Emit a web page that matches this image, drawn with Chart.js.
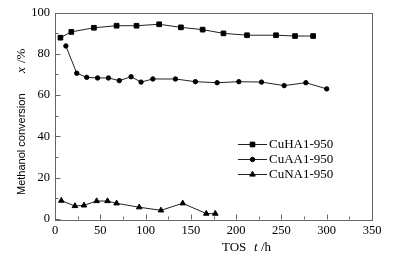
<!DOCTYPE html>
<html>
<head>
<meta charset="utf-8">
<script src="https://cdn.jsdelivr.net/npm/chart.js@4"></script>
<style>
  body { margin: 0; background: #fff; }
  canvas { display: block; }
</style>
</head>
<body>
<canvas id="chart" width="394" height="257"></canvas>
<script>
// --- datos ---
const seriesNames = ['CuHA1-950', 'CuAA1-950', 'CuNA1-950'];

const cuhaTime = [6, 18, 43, 68, 90, 115, 139, 163, 186, 212, 244, 265, 285];
const cuhaConv = [87.8, 90.6, 92.6, 93.6, 93.6, 94.3, 92.8, 91.7, 89.9, 89.0, 89.0, 88.6, 88.6];

const cuaaTime = [12, 24, 35, 47, 59, 71, 84, 95, 108, 133, 155, 179, 203, 228, 253, 277, 300];
const cuaaConv = [83.8, 70.6, 68.6, 68.3, 68.3, 67.0, 68.9, 66.3, 67.8, 67.8, 66.5, 66.0, 66.5, 66.3, 64.6, 66.0, 63.0];

const cunaTime = [7, 22, 32, 46, 58, 68, 93, 117, 141, 167, 177];
const cunaConv = [8.9, 6.3, 6.6, 8.7, 8.7, 7.6, 5.7, 4.2, 7.6, 2.6, 2.6];

const xTicks = [0, 50, 100, 150, 200, 250, 300, 350];
const yTicks = [0, 20, 40, 60, 80, 100];

const pts = (xs, ys) => xs.map((x, i) => ({ x: x, y: ys[i] }));

const serif = "'Liberation Serif', 'Times New Roman', serif";
const sans = "'Liberation Sans', Arial, sans-serif";

// marcos, ticks hacia dentro, leyenda y títulos de ejes
const decor = {
    id: 'decor',
    afterDraw(chart) {
        const { ctx, chartArea: a, scales: { x, y } } = chart;
        ctx.save();
        ctx.strokeStyle = '#666';
        ctx.lineWidth = 1;
        ctx.strokeRect(Math.round(a.left) + 0.5, Math.round(a.top) + 0.5,
            Math.round(a.right - a.left), Math.round(a.bottom - a.top));

        ctx.beginPath();
        const bottom = Math.round(a.bottom) + 0.5;
        const left = Math.round(a.left) + 0.5;
        for (let i = 0; i < xTicks.length; i++) {
            const px = Math.round(x.getPixelForValue(xTicks[i])) + 0.5;
            ctx.moveTo(px, bottom); ctx.lineTo(px, bottom - 5);
            if (i < xTicks.length - 1) {
                const pm = Math.round(x.getPixelForValue((xTicks[i] + xTicks[i + 1]) / 2)) + 0.5;
                ctx.moveTo(pm, bottom); ctx.lineTo(pm, bottom - 3);
            }
        }
        for (let i = 0; i < yTicks.length; i++) {
            const py = Math.round(y.getPixelForValue(yTicks[i])) + 0.5;
            ctx.moveTo(left, py); ctx.lineTo(left + 5, py);
            if (i < yTicks.length - 1) {
                const pm = Math.round(y.getPixelForValue((yTicks[i] + yTicks[i + 1]) / 2)) + 0.5;
                ctx.moveTo(left, pm); ctx.lineTo(left + 3, pm);
            }
        }
        ctx.stroke();

        // leyenda
        chart.data.datasets.forEach((ds, i) => {
            const ly = 144.5 + i * 15;
            ctx.strokeStyle = ds.borderColor;
            ctx.lineWidth = ds.borderWidth;
            ctx.beginPath();
            ctx.moveTo(238, ly); ctx.lineTo(267, ly);
            ctx.stroke();
            ctx.fillStyle = ds.pointBackgroundColor;
            ctx.strokeStyle = ds.pointBorderColor;
            ctx.lineWidth = 1;
            Chart.helpers.drawPoint(ctx, { pointStyle: ds.pointStyle, radius: ds.pointRadius, rotation: 0, borderWidth: 1 }, 252.5, ly);
            ctx.fillStyle = '#000';
            ctx.font = '13px ' + serif;
            ctx.textAlign = 'left';
            ctx.textBaseline = 'middle';
            ctx.fillText(ds.label, 269, ly + 0.5);
        });

        // título eje x
        ctx.fillStyle = '#000';
        ctx.textBaseline = 'middle';
        ctx.textAlign = 'left';
        ctx.font = '13px ' + serif;
        ctx.fillText('TOS', 222, 248);
        ctx.font = 'italic 13px ' + serif;
        ctx.fillText('t', 254, 248);
        ctx.font = '13px ' + serif;
        ctx.fillText('/h', 261, 248);

        // título eje y
        ctx.save();
        ctx.translate(22, 0);
        ctx.rotate(-Math.PI / 2);
        ctx.font = '11px ' + sans;
        ctx.fillText('Methanol conversion', -195, 0);
        ctx.font = 'italic 13px ' + serif;
        ctx.fillText('x', -73, 0);
        ctx.font = '13px ' + serif;
        ctx.fillText('/%', -63, 0);
        ctx.restore();

        ctx.restore();
    }
};

const ds = (label, data, style, r) => ({
    label: label,
    data: data,
    showLine: true,
    borderColor: '#222',
    borderWidth: 1,
    pointStyle: style,
    pointRadius: r,
    pointBackgroundColor: '#000',
    pointBorderColor: '#000',
    pointBorderWidth: 1,
    tension: 0
});

new Chart(document.getElementById('chart').getContext('2d'), {
    type: 'scatter',
    data: {
        datasets: [
            ds(seriesNames[0], pts(cuhaTime, cuhaConv), 'rect', 3.3),
            ds(seriesNames[1], pts(cuaaTime, cuaaConv), 'circle', 2.2),
            ds(seriesNames[2], pts(cunaTime, cunaConv), 'triangle', 3.2)
        ]
    },
    options: {
        responsive: false,
        animation: false,
        layout: { padding: { left: 0, top: 12, right: 22, bottom: 0 } },
        plugins: { legend: { display: false }, tooltip: { enabled: false } },
        scales: {
            x: {
                type: 'linear',
                min: 0, max: 350,
                afterBuildTicks: s => { s.ticks = xTicks.map(v => ({ value: v })); },
                afterFit: s => { s.height = 38; },
                grid: { display: false, drawTicks: false },
                border: { display: false },
                ticks: { color: '#000', padding: 4, maxRotation: 0, font: { family: serif, size: 12.5 } }
            },
            y: {
                min: 0, max: 100,
                afterBuildTicks: s => { s.ticks = yTicks.map(v => ({ value: v })); },
                afterFit: s => { s.width = 55; },
                grid: { display: false, drawTicks: false },
                border: { display: false },
                ticks: { color: '#000', padding: 5, font: { family: serif, size: 12.5 } }
            }
        }
    },
    plugins: [decor]
});
</script>
</body>
</html>
